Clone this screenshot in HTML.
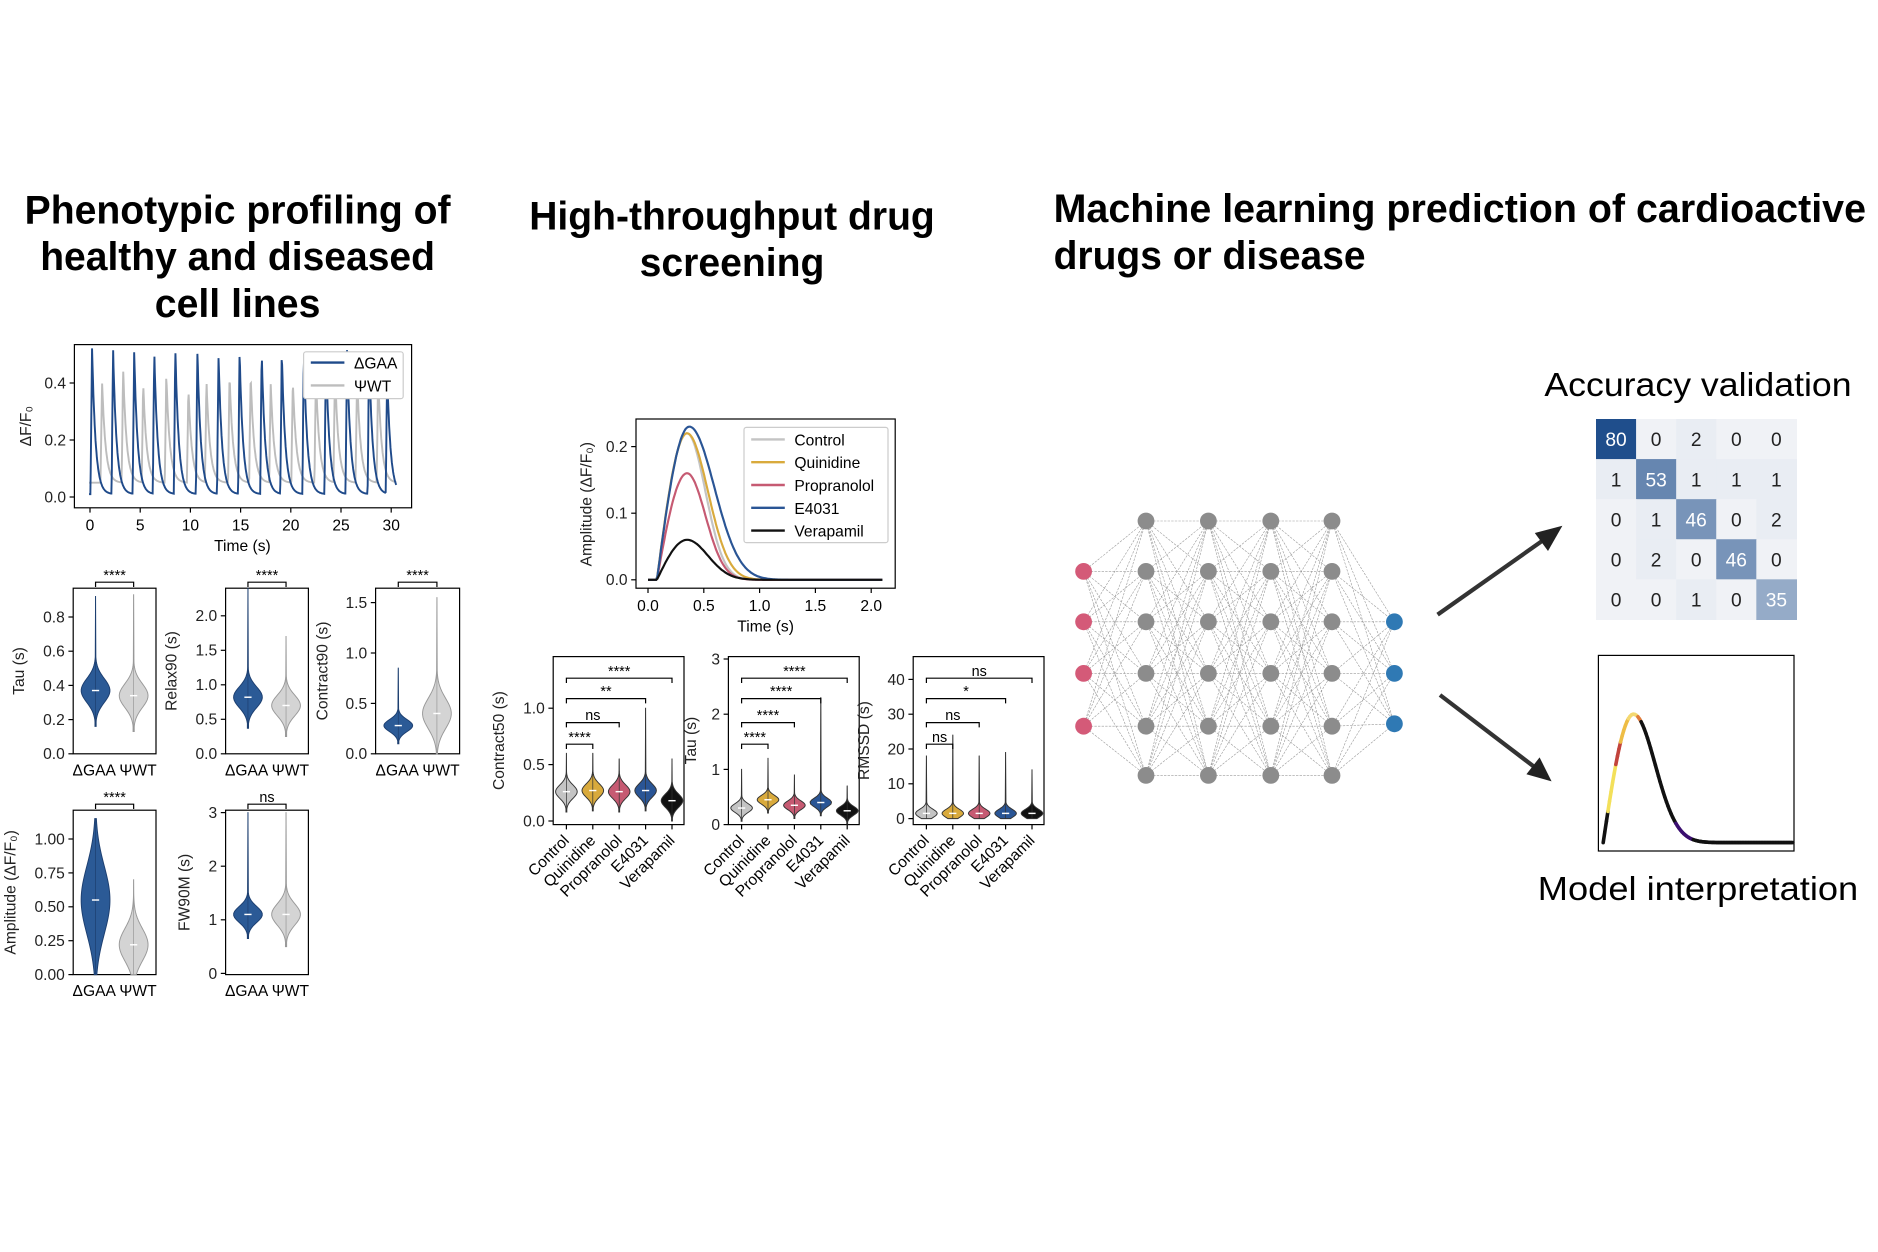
<!DOCTYPE html>
<html><head><meta charset="utf-8"><style>
html,body{margin:0;padding:0;background:#fff}
svg{display:block}
text{font-family:"Liberation Sans","DejaVu Sans",sans-serif}
</style></head><body>
<svg id="fig" xmlns="http://www.w3.org/2000/svg" width="1878" height="1252" viewBox="0 0 1565 1043">
<rect width="1565" height="1043" fill="#fff"/>
<g font-weight="bold" font-size="33" text-anchor="middle" fill="#000">
<text x="198" y="186" textLength="355" lengthAdjust="spacingAndGlyphs">Phenotypic profiling of</text><text x="198" y="225" textLength="329" lengthAdjust="spacingAndGlyphs">healthy and diseased</text><text x="198" y="264" textLength="138" lengthAdjust="spacingAndGlyphs">cell lines</text></g>
<g font-weight="bold" font-size="33" text-anchor="middle" fill="#000">
<text x="610" y="191" textLength="338" lengthAdjust="spacingAndGlyphs">High-throughput drug</text><text x="610" y="230" textLength="154" lengthAdjust="spacingAndGlyphs">screening</text></g>
<g font-weight="bold" font-size="33" fill="#000">
<text x="878" y="185" textLength="677" lengthAdjust="spacingAndGlyphs">Machine learning prediction of cardioactive</text><text x="878" y="224" textLength="260" lengthAdjust="spacingAndGlyphs">drugs or disease</text></g>
<text x="1415" y="330" font-size="28" text-anchor="middle" textLength="256" lengthAdjust="spacingAndGlyphs">Accuracy validation</text>
<text x="1415" y="750" font-size="28" text-anchor="middle" textLength="267" lengthAdjust="spacingAndGlyphs">Model interpretation</text>
<g id="root"></g>
</svg>
<script>
// ---------- data ----------
const gaaBeats=[0.2,2.3,4.4,6.4,8.5,10.7,12.8,14.9,17.1,19.1,21.3,23.5,25.6,27.8,29.6];
const gaaAmps=[0.52,0.51,0.5,0.5,0.51,0.5,0.49,0.5,0.5,0.5,0.5,0.5,0.51,0.5,0.42];
const wtBeats=[1.2,3.3,5.3,7.6,9.8,11.6,13.9,16.0,18.0,20.2,22.5,24.4,26.6,28.7];
const wtAmps=[0.36,0.4,0.35,0.38,0.33,0.36,0.38,0.38,0.35,0.36,0.38,0.4,0.38,0.38];
const drugNames=["Control","Quinidine","Propranolol","E4031","Verapamil"];
const drugPeaks=[0.22,0.22,0.16,0.23,0.06];
const drugPeakT=[0.35,0.35,0.35,0.37,0.35];
const drugDecay=[0.22,0.25,0.22,0.3,0.25];
const drugColors=["#c4c4c4","#d9aa3c","#c65a72","#2a5595","#111"];
const phenoMedians=[[0.37,0.34],[0.82,0.7],[0.28,0.4],[0.55,0.22],[1.1,1.1]];
const phenoSpread=[[0.07,0.07],[0.15,0.15],[0.06,0.15],[0.25,0.12],[0.15,0.2]];
const phenoMax=[[0.92,0.93],[2.4,1.7],[0.85,1.55],[1.15,0.7],[3.0,3.0]];
const phenoSig=["****","****","****","****","ns"];
const c50Med=[0.26,0.27,0.26,0.27,0.18];
const c50Max=[0.6,0.6,0.55,1.0,0.55];
const tauMed=[0.3,0.45,0.35,0.4,0.25];
const tauMax=[1.0,1.2,0.9,2.3,0.7];
const rmMed=[1.5,1.5,1.5,1.5,1.5];
const rmMax=[18,24,18,19,14];
const confMatrix=[[80,0,2,0,0],[1,53,1,1,1],[0,1,46,0,2],[0,2,0,46,0],[0,0,1,0,35]];
// ---------- helpers ----------
const NS="http://www.w3.org/2000/svg";const root=document.getElementById('root');
function el(tag,attrs,parent,txt){const e=document.createElementNS(NS,tag);for(const k in attrs)e.setAttribute(k,attrs[k]);if(txt!==undefined)e.textContent=txt;(parent||root).appendChild(e);return e;}
function lin(d0,d1,r0,r1){return v=>r0+(v-d0)*(r1-r0)/(d1-d0);}
function axesBox(x0,y0,x1,y1,name){const g=el('g',{});
 el('rect',{x:x0,y:y0,width:x1-x0,height:y1-y0,fill:'none',stroke:'#000','stroke-width':1},g);return g;}
function yTicks(g,x0,ys,vals,labels){vals.forEach((v,i)=>{const y=ys(v);el('line',{x1:x0-4,x2:x0,y1:y,y2:y,stroke:'#000'},g);const t=el('text',{x:x0-7,y:y+4.5,'font-size':13,'text-anchor':'end',fill:'#222'},g,labels[i]);});}
function yTitle(g,x,y,txt){const t=el('text',{x:x,y:y,'font-size':13,'text-anchor':'middle',transform:`rotate(-90 ${x} ${y})`,fill:'#222'},g,txt);}
function violin(g,cx,ys,med,spr,mx,w,fill,stroke){let L=[],R=[];const lo=Math.max(0,med-3*spr);
 for(let k=0;k<=60;k++){const v=lo+(mx-lo)*k/60;let d=Math.exp(-0.5*Math.pow((v-med)/spr,2));d=Math.max(d,0.04*(1-(v-lo)/(mx-lo)+0.02));const hw=w*d;L.push([cx-hw,ys(v)]);R.push([cx+hw,ys(v)]);}
 const pts=L.concat(R.reverse()).map(p=>p.join(',')).join(' ');const p=el('polygon',{points:pts,fill:fill,stroke:stroke,'stroke-width':0.8},g);
 el('line',{x1:cx,x2:cx,y1:ys(mx),y2:ys(lo),stroke:stroke,'stroke-width':0.6},g);
 el('line',{x1:cx-3,x2:cx+3,y1:ys(med),y2:ys(med),stroke:'#fff','stroke-width':1.2},g);}
function bracket(g,xa,xb,y,txt){el('path',{d:`M${xa},${y+4}V${y}H${xb}V${y+4}`,fill:'none',stroke:'#000','stroke-width':1},g);const t=el('text',{x:(xa+xb)/2,y:y-2,'font-size':12,'text-anchor':'middle'},g,txt);}
// ---------- trace plot ----------
(function(){const g=axesBox(62,287,343,423,'calcium-trace-plot');const xs=lin(0,30,75,326),ys=lin(0,0.4,414,319);
 yTicks(g,62,ys,[0,0.2,0.4],["0.0","0.2","0.4"]);
 [0,5,10,15,20,25,30].forEach(v=>{el('line',{x1:xs(v),x2:xs(v),y1:423,y2:427,stroke:'#000'},g);el('text',{x:xs(v),y:442,'font-size':13,'text-anchor':'middle'},g,v);});
 el('text',{x:202,y:459,'font-size':13,'text-anchor':'middle'},g,'Time (s)');yTitle(g,26,355,'ΔF/F₀');
 function wave(beats,amps,base,name,color,w){let d='';for(let k=0;k<=700;k++){const t=-0.1+30.6*k/700;let v=base;beats.forEach((b,i)=>{const dt=t-b;if(dt>-0.15&&dt<0)v+=amps[i]*(1+dt/0.15);else if(dt>=0)v+=amps[i]*Math.exp(-dt/0.35);});v=Math.min(v,0.56);d+=(k?'L':'M')+xs(t).toFixed(1)+','+ys(v).toFixed(1);}
  const p=el('path',{d:d,fill:'none',stroke:color,'stroke-width':w},g);}
 wave(wtBeats,wtAmps,0.05,'series-wt','#bdbdbd',1.6);wave(gaaBeats,gaaAmps,0.01,'series-gaa','#1f4a8a',1.6);
 const lg=el('g',{},g);
 el('rect',{x:253,y:293,width:83,height:39,fill:'#fff',stroke:'#ccc',rx:2},lg);
 el('line',{x1:259,x2:287,y1:302,y2:302,stroke:'#1f4a8a','stroke-width':2},lg);el('text',{x:295,y:307,'font-size':13},lg,'ΔGAA');
 el('line',{x1:259,x2:287,y1:321,y2:321,stroke:'#bdbdbd','stroke-width':2},lg);el('text',{x:295,y:326,'font-size':13},lg,'ΨWT');})();
// ---------- phenotype violins ----------
const panels=[{b:[61,490,130,628],t:[0,0.8],ticks:[0,0.2,0.4,0.6,0.8],lab:["0.0","0.2","0.4","0.6","0.8"],title:'Tau (s)',tx:20},
{b:[188,490,257,628],t:[0,2.0],ticks:[0,0.5,1,1.5,2],lab:["0.0","0.5","1.0","1.5","2.0"],title:'Relax90 (s)',tx:147},
{b:[313,490,383,628],t:[0,1.5],ticks:[0,0.5,1,1.5],lab:["0.0","0.5","1.0","1.5"],title:'Contract90 (s)',tx:273},
{b:[61,675,130,812],t:[0,1.0],ticks:[0,0.25,0.5,0.75,1],lab:["0.00","0.25","0.50","0.75","1.00"],title:'Amplitude (ΔF/F₀)',tx:13},
{b:[188,675,257,812],t:[0,3],ticks:[0,1,2,3],lab:["0","1","2","3"],title:'FW90M (s)',tx:158}];
const tickY={0:[628,514],1:[628,513],2:[628,502],3:[812,699],4:[811,677]};
panels.forEach((P,i)=>{const [x0,y0,x1,y1]=P.b;const g=axesBox(x0,y0,x1,y1,'phenotype-violin-'+(i+1));const ys=lin(P.t[0],P.t[1],tickY[i][0],tickY[i][1]);
 yTicks(g,x0,ys,P.ticks,P.lab);yTitle(g,P.tx,(y0+y1)/2,P.title);
 const ca=x0+(x1-x0)*0.27,cb=x0+(x1-x0)*0.73;
 violin(g,ca,ys,phenoMedians[i][0],phenoSpread[i][0],phenoMax[i][0],12,'#2b5a96','#1d3f70');
 violin(g,cb,ys,phenoMedians[i][1],phenoSpread[i][1],phenoMax[i][1],12,'#d4d4d4','#999');
 el('text',{x:(x0+x1)/2,y:y1+18,'font-size':13,'text-anchor':'middle'},g,'ΔGAA ΨWT');
 bracket(g,ca,cb,y0-5,phenoSig[i]);});
// ---------- drug trace ----------
(function(){const g=axesBox(530,349,746,490,'drug-trace-plot');const xs=lin(0,2,540,726),ys=lin(0,0.2,483,372);
 yTicks(g,530,ys,[0,0.1,0.2],["0.0","0.1","0.2"]);yTitle(g,493,420,'Amplitude (ΔF/F₀)');
 [0,0.5,1,1.5,2].forEach(v=>{el('line',{x1:xs(v),x2:xs(v),y1:490,y2:494,stroke:'#000'},g);el('text',{x:xs(v),y:509,'font-size':13,'text-anchor':'middle'},g,v.toFixed(1));});
 el('text',{x:638,y:526,'font-size':13,'text-anchor':'middle'},g,'Time (s)');
 drugNames.forEach((n,i)=>{let d='';for(let k=0;k<=200;k++){const t=2.1*k/200;let v=0;const t0=0.08;if(t>t0){if(t<drugPeakT[i]){const u=(t-t0)/(drugPeakT[i]-t0);v=drugPeaks[i]*Math.sin(u*Math.PI/2);}else{const u=(t-drugPeakT[i])/drugDecay[i];v=drugPeaks[i]*Math.exp(-u*u*0.9);}}
  d+=(k?'L':'M')+xs(t).toFixed(1)+','+ys(v).toFixed(1);}
  const p=el('path',{d:d,fill:'none',stroke:drugColors[i],'stroke-width':1.8},g);});
 const lg=el('g',{},g);
 el('rect',{x:620,y:356,width:120,height:96,fill:'#fff',stroke:'#ccc',rx:2},lg);
 drugNames.forEach((n,i)=>{const y=366+i*19;el('line',{x1:626,x2:654,y1:y,y2:y,stroke:drugColors[i],'stroke-width':2},lg);el('text',{x:662,y:y+5,'font-size':13},lg,n);});})();
// ---------- drug violins ----------
const dpanels=[{b:[461,547,570,687],t:[0,1.0],y:[684,590],ticks:[0,0.5,1],lab:["0.0","0.5","1.0"],title:'Contract50 (s)',tx:420,med:c50Med,mx:c50Max,spr:0.06,sig:["****","ns","**","****"]},
{b:[607,547,716,687],t:[0,3],y:[687,549],ticks:[0,1,2,3],lab:["0","1","2","3"],title:'Tau (s)',tx:580,med:tauMed,mx:tauMax,spr:0.08,sig:["****","****","****","****"]},
{b:[761,547,870,687],t:[0,40],y:[682,566],ticks:[0,10,20,30,40],lab:["0","10","20","30","40"],title:'RMSSD (s)',tx:724,med:rmMed,mx:rmMax,spr:1.2,sig:["ns","ns","*","ns"]}];
dpanels.forEach((P,i)=>{const [x0,y0,x1,y1]=P.b;const g=axesBox(x0,y0,x1,y1,'drug-violin-panel-'+(i+1));const ys=lin(P.t[0],P.t[1],P.y[0],P.y[1]);
 yTicks(g,x0,ys,P.ticks,P.lab);yTitle(g,P.tx,(y0+y1)/2,P.title);
 drugNames.forEach((n,j)=>{const cx=x0+11+j*22;violin(g,cx,ys,P.med[j],P.spr,P.mx[j],9,drugColors[j],'#333');
  el('line',{x1:cx,x2:cx,y1:y1,y2:y1+4,stroke:'#000'},g);
  const t=el('text',{x:cx+3,y:y1+14,'font-size':13,'text-anchor':'end',transform:`rotate(-45 ${cx+3} ${y1+14})`},g,n);});
 P.sig.forEach((s,k)=>{const xa=x0+11,xb=x0+11+(k+1)*22;bracket(g,xa,xb,[y0+73,y0+55,y0+35,y0+18][k],s);});});
// ---------- neural network ----------
(function(){const g=el('g',{});
 const layers=[{x:903,ys:[476,518,561,605],c:'#d45a78'},{x:955,ys:[434,476,518,561,605,646],c:'#8c8c8c'},{x:1007,ys:[434,476,518,561,605,646],c:'#8c8c8c'},{x:1059,ys:[434,476,518,561,605,646],c:'#8c8c8c'},{x:1110,ys:[434,476,518,561,605,646],c:'#8c8c8c'},{x:1162,ys:[518,561,603],c:'#2f79b4'}];
 for(let l=0;l<layers.length-1;l++)layers[l].ys.forEach(a=>layers[l+1].ys.forEach(b=>el('line',{x1:layers[l].x,y1:a,x2:layers[l+1].x,y2:b,stroke:'#9a9a9a','stroke-width':0.5,'stroke-dasharray':'2,1'},g)));
 layers.forEach(L=>L.ys.forEach(y=>el('circle',{cx:L.x,cy:y,r:7,fill:L.c},g)));})();
// ---------- arrows ----------
(function(){const g=el('g',{});
 el('line',{x1:1198,y1:512,x2:1286,y2:450,stroke:'#333','stroke-width':3.5},g);el('polygon',{points:'1302,438 1279,444 1290,459',fill:'#222'},g);
 el('line',{x1:1200,y1:579,x2:1280,y2:640,stroke:'#333','stroke-width':3.5},g);el('polygon',{points:'1293,651 1272,645 1283,631',fill:'#222'},g);})();
// ---------- confusion matrix ----------
(function(){const g=el('g',{});
 const x0=1330,y0=349,cs=33.4;const mx=80;
 confMatrix.forEach((row,r)=>row.forEach((v,c)=>{const f=v/mx;const col=v>10?`rgb(${Math.round(240-f*209)},${Math.round(243-f*165)},${Math.round(247-f*107)})`:(v>0?'#e9edf3':'#f0f2f6');
  const cell=el('rect',{x:x0+c*cs,y:y0+r*cs,width:cs+0.5,height:cs+0.5,fill:col},g);
  el('text',{x:x0+c*cs+cs/2,y:y0+r*cs+cs/2+6,'font-size':16,'text-anchor':'middle',fill:v>10?'#fff':'#222'},g,v);}));})();
// ---------- model interpretation ----------
(function(){const g=axesBox(1332,546,1495,709,'model-interpretation-plot');
 const pts=[];for(let k=0;k<=120;k++){const t=k/120;let v;if(t<0.16){v=Math.sin(t/0.16*Math.PI/2);}else{const u=(t-0.16)/0.17;v=Math.exp(-u*u*1.1);}pts.push([1336+t*158,702-v*107]);}
 const cols=t=>t<0.02?'#111':t<0.06?'#f3e05a':t<0.09?'#c2433c':t<0.13?'#eebd45':t<0.18?'#f4d870':t<0.2?'#e07a3a':t<0.38?'#111':t<0.47?'#3b0f70':'#111';
 for(let k=0;k<120;k++){el('line',{x1:pts[k][0],y1:pts[k][1],x2:pts[k+1][0],y2:pts[k+1][1],stroke:cols(k/120),'stroke-width':3,'stroke-linecap':'round'},g);}})();
</script>
</body></html>
